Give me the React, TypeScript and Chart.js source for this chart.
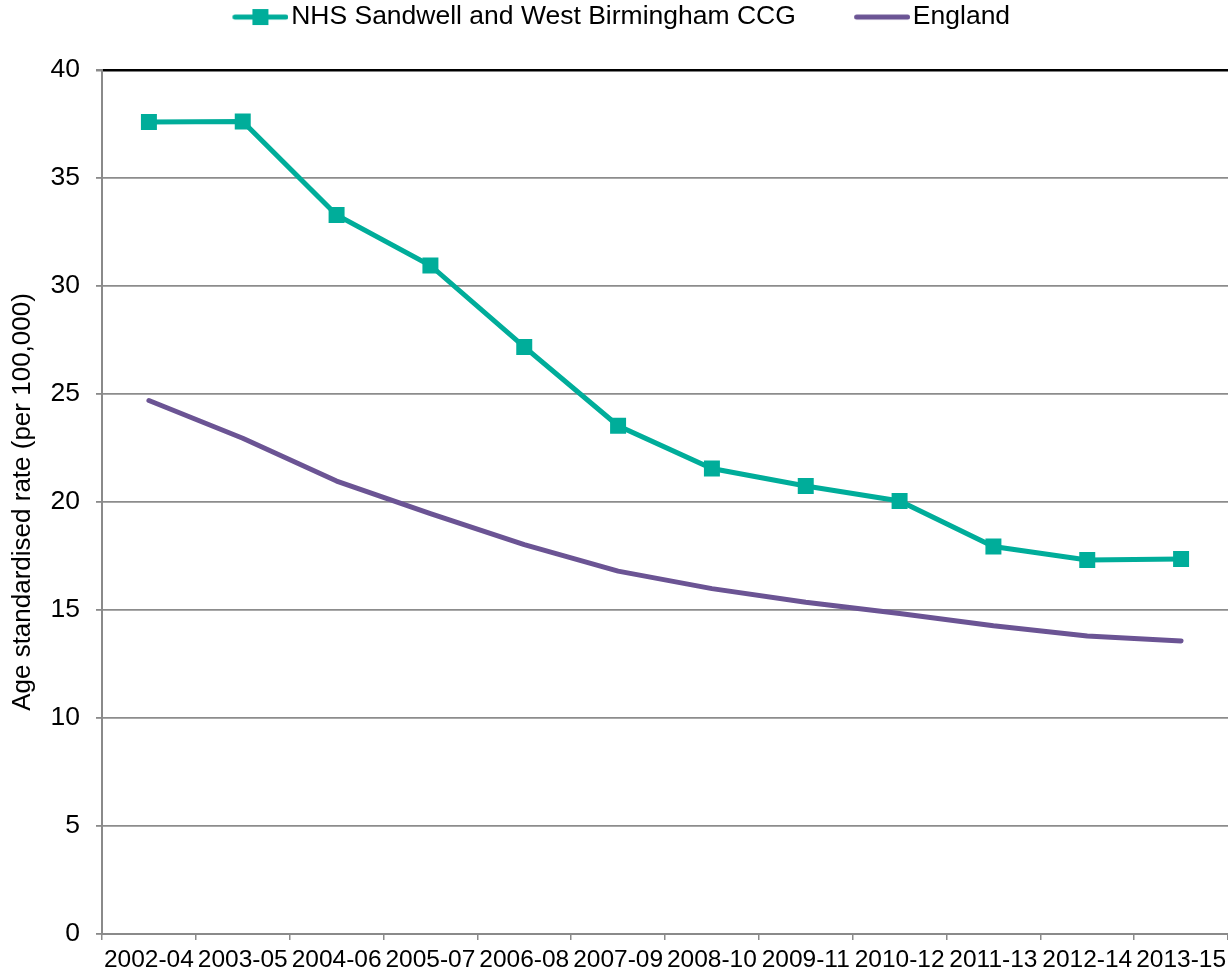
import React, { useEffect, useRef } from 'react';
import { Chart, registerables } from 'chart.js';

Chart.register(...registerables);

const categories = [
  '2002-04', '2003-05', '2004-06', '2005-07', '2006-08', '2007-09',
  '2008-10', '2009-11', '2010-12', '2011-13', '2012-14', '2013-15',
];
const nhsLabel = 'NHS Sandwell and West Birmingham CCG';
const englandLabel = 'England';
const nhsValues = [37.59, 37.62, 33.29, 30.95, 27.18, 23.53, 21.55, 20.74, 20.05, 17.94, 17.32, 17.36];
const englandValues = [24.7, 22.95, 20.97, 19.46, 18.03, 16.8, 15.99, 15.36, 14.84, 14.27, 13.8, 13.57];
const yMin = 0;
const yMax = 40;
const yStep = 5;
const yTitle = 'Age standardised rate (per 100,000)';

const TEAL = '#00ad9a';
const PURPLE = '#6b5494';
const FONT = '"Liberation Sans", Arial, Helvetica, sans-serif';

function makeSymbol(color: string, withMarker: boolean, boxW: number): HTMLCanvasElement {
  const W = Math.round(boxW + 20.5);
  const H = 20;
  const c = document.createElement('canvas');
  c.width = W;
  c.height = H;
  const ctx = c.getContext('2d')!;
  const len = 56;
  const x0 = W - len;
  ctx.strokeStyle = color;
  ctx.lineWidth = 5;
  ctx.lineCap = 'round';
  ctx.beginPath();
  ctx.moveTo(x0 + 2.5, H / 2);
  ctx.lineTo(W - 2.5, H / 2);
  ctx.stroke();
  if (withMarker) {
    ctx.fillStyle = color;
    const s = 16;
    ctx.fillRect(x0 + len / 2 - s / 2, H / 2 - s / 2, s, s);
  }
  return c;
}

export default function App() {
  const ref = useRef<HTMLCanvasElement | null>(null);

  useEffect(() => {
    if (!ref.current) return;
    const legendPad = 43.8;
    const boxW = 60;
    const symbols = [makeSymbol(TEAL, true, boxW), makeSymbol(PURPLE, false, boxW)];

    const chart = new Chart(ref.current, {
      type: 'line',
      data: {
        labels: categories,
        datasets: [
          {
            label: nhsLabel,
            data: nhsValues,
            borderColor: TEAL,
            backgroundColor: TEAL,
            borderWidth: 5,
            pointStyle: 'rect',
            pointRadius: 11.3,
            pointBorderWidth: 0,
            pointBackgroundColor: TEAL,
            tension: 0,
          },
          {
            label: englandLabel,
            data: englandValues,
            borderColor: PURPLE,
            backgroundColor: PURPLE,
            borderWidth: 5,
            borderCapStyle: 'round',
            borderJoinStyle: 'round',
            pointRadius: 0,
            tension: 0,
          },
        ],
      },
      options: {
        responsive: false,
        animation: false,
        layout: { autoPadding: false, padding: { top: -40, left: 0, right: 0, bottom: 0 } },
        plugins: {
          tooltip: { enabled: false },
          legend: {
            position: 'top',
            align: 'center',
            labels: {
              usePointStyle: true,
              pointStyleWidth: boxW,
              padding: legendPad,
              color: '#000',
              font: { family: FONT, size: 26.5 },
              generateLabels: (ch: any) =>
                ch.data.datasets.map((ds: any, i: number) => ({
                  text: ds.label,
                  pointStyle: symbols[i],
                  fillStyle: ds.borderColor,
                  strokeStyle: ds.borderColor,
                  lineWidth: 0,
                  hidden: false,
                  datasetIndex: i,
                  fontColor: '#000',
                })),
            },
          },
          title: {
            display: true,
            text: '',
            weight: 500,
            font: { size: 1, lineHeight: 1 },
            padding: { top: 28.7, bottom: 0 },
          },
        },
        scales: {
          x: {
            type: 'category',
            offset: true,
            afterFit: (s: any) => {
              s.height = 42;
              s.paddingLeft = 0;
              s.paddingRight = 0;
            },
            grid: {
              offset: true,
              drawOnChartArea: false,
              drawTicks: true,
              tickLength: 6,
              color: '#8a8a8a',
              lineWidth: 1.5,
            },
            border: { color: '#8a8a8a', width: 2 },
            ticks: {
              color: '#000',
              padding: 6,
              maxRotation: 0,
              autoSkip: false,
              font: { family: FONT, size: 24.5 },
            },
          },
          y: {
            min: yMin,
            max: yMax,
            afterFit: (s: any) => {
              s.width = 102;
            },
            grid: {
              color: (c: any) => (c.tick && c.tick.value === yMax ? '#000' : '#8c8c8c'),
              lineWidth: (c: any) => (c.tick && c.tick.value === yMax ? 2.5 : 1.8),
              tickColor: '#8a8a8a',
              tickLength: 6,
              drawTicks: true,
            },
            border: { color: '#8a8a8a', width: 2 },
            ticks: {
              stepSize: yStep,
              color: '#000',
              padding: 16,
              font: { family: FONT, size: 26.5 },
            },
            title: {
              display: true,
              text: yTitle,
              color: '#000',
              padding: { top: 7, bottom: 0 },
              font: { family: FONT, size: 26 },
            },
          },
        },
      },
    });
    return () => chart.destroy();
  }, []);

  return (
    <div style={{ position: 'fixed', left: 0, top: 0, width: 1228, height: 976, background: '#fff' }}>
      <canvas ref={ref} width={1228} height={976} style={{ display: 'block' }} />
    </div>
  );
}
